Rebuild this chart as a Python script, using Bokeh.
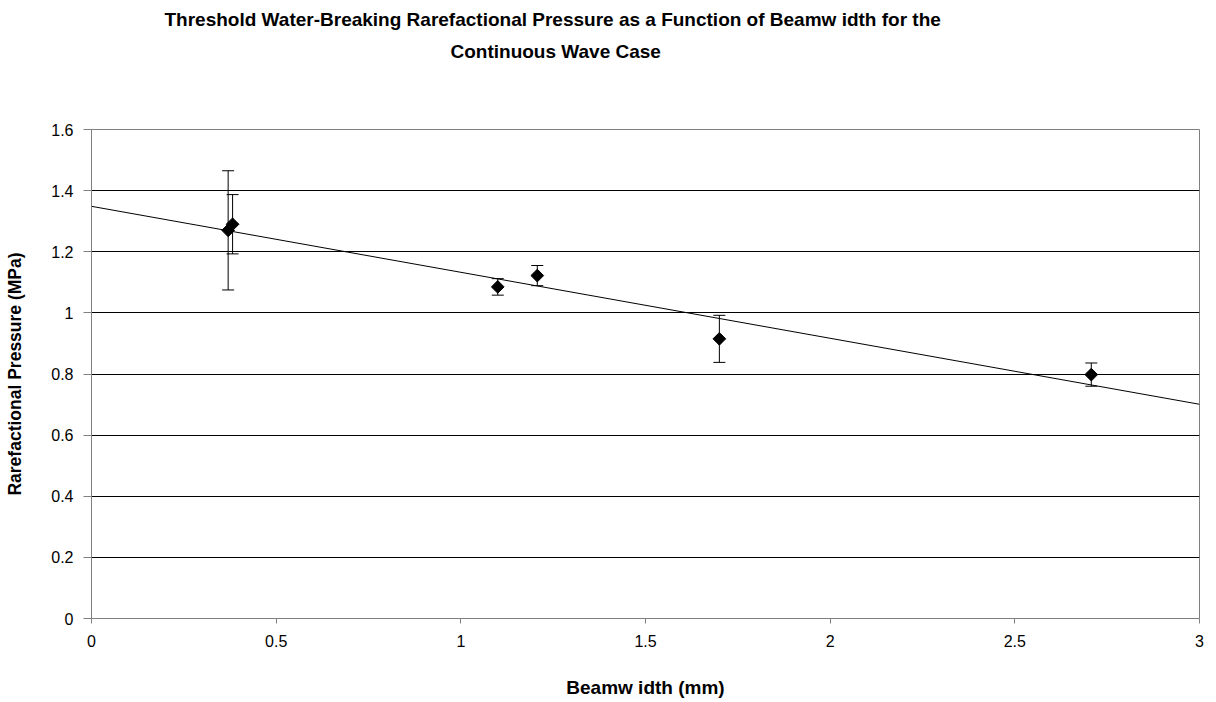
import numpy as np
from bokeh.plotting import figure
from bokeh.models import ColumnDataSource, Whisker, TeeHead, FixedTicker, Title
from bokeh.embed import file_html
from bokeh.resources import INLINE

# ---- data ----
beamwidth = [0.37, 0.382, 1.10, 1.207, 1.70, 2.707]
pressure = [1.27, 1.29, 1.085, 1.122, 0.915, 0.798]
error = [0.195, 0.097, 0.027, 0.033, 0.077, 0.038]

x_ticks = [0, 0.5, 1, 1.5, 2, 2.5, 3]
x_tick_labels = ["0", "0.5", "1", "1.5", "2", "2.5", "3"]
y_ticks = [0, 0.2, 0.4, 0.6, 0.8, 1.0, 1.2, 1.4, 1.6]
y_tick_labels = ["0", "0.2", "0.4", "0.6", "0.8", "1", "1.2", "1.4", "1.6"]

title_line1 = "Threshold Water-Breaking Rarefactional Pressure as a Function of Beamw idth for the"
title_line2 = "Continuous Wave Case"
x_label = "Beamw idth (mm)"
y_label = "Rarefactional Pressure (MPa)"

FONT = "Liberation Sans"
GRAY = "#808080"

p = figure(width=1216, height=702, x_range=(0, 3), y_range=(0, 1.6),
           output_backend="svg", toolbar_location=None, title=None,
           min_border_left=91, min_border_right=17, min_border_bottom=84,
           min_border_top=129)
p.background_fill_color = "white"
p.border_fill_color = "white"
p.outline_line_color = GRAY
p.outline_line_width = 1

# titles (inner first): spacer, line 2, line 1
spacer = Title(text=" ", text_font=FONT, text_font_size="19px", standoff=40)
t2 = Title(text=title_line2, align="left", offset=359, text_font=FONT,
           text_font_size="19px", text_font_style="bold", text_color="black",
           standoff=9)
t1 = Title(text=title_line1, align="left", offset=73, text_font=FONT,
           text_font_size="19px", text_font_style="bold", text_color="black",
           standoff=10)
p.add_layout(spacer, "above")
p.add_layout(t2, "above")
p.add_layout(t1, "above")

# axes
p.xaxis.ticker = FixedTicker(ticks=x_ticks)
p.xaxis.major_label_overrides = {t: l for t, l in zip(x_ticks, x_tick_labels)}
p.yaxis.ticker = FixedTicker(ticks=y_ticks)
p.yaxis.major_label_overrides = {t: l for t, l in zip(y_ticks, y_tick_labels)}
for ax in (p.xaxis, p.yaxis):
    ax.axis_line_color = GRAY
    ax.major_tick_line_color = GRAY
    ax.major_tick_in = 0
    ax.minor_tick_line_color = None
    ax.major_label_text_font = FONT
    ax.major_label_text_font_size = "16px"
    ax.major_label_text_color = "black"
    ax.axis_label_text_font = FONT
    ax.axis_label_text_font_style = "bold"
    ax.axis_label_text_color = "black"
p.xaxis.major_tick_out = 5
p.yaxis.major_tick_out = 8
p.xaxis.major_label_standoff = 11
p.yaxis.major_label_standoff = 10
p.xaxis.axis_label = x_label
p.xaxis.axis_label_text_font_size = "19px"
p.xaxis.axis_label_standoff = 27
p.yaxis.axis_label = y_label
p.yaxis.axis_label_text_font_size = "17.5px"
p.yaxis.axis_label_standoff = 23

p.xgrid.visible = False
p.ygrid.ticker = FixedTicker(ticks=y_ticks[1:-1])
p.ygrid.grid_line_color = "black"
p.ygrid.grid_line_width = 1

# trendline (least squares fit of the data)
slope, intercept = np.polyfit(beamwidth, pressure, 1)
tx = [p.x_range.start, p.x_range.end]
p.line(tx, [intercept + slope * v for v in tx], line_color="black", line_width=1)

# error bars
src = ColumnDataSource(dict(
    x=beamwidth, y=pressure,
    upper=[y + e for y, e in zip(pressure, error)],
    lower=[y - e for y, e in zip(pressure, error)],
))
wh = Whisker(source=src, base="x", upper="upper", lower="lower",
             line_color="black", line_width=1,
             upper_head=TeeHead(size=12, line_color="black", line_width=1),
             lower_head=TeeHead(size=12, line_color="black", line_width=1))
p.add_layout(wh)

# markers
p.scatter("x", "y", source=src, marker="square", angle=np.pi / 4, size=9,
          fill_color="black", line_color="black")

open("out.html", "w").write(file_html(p, INLINE))
